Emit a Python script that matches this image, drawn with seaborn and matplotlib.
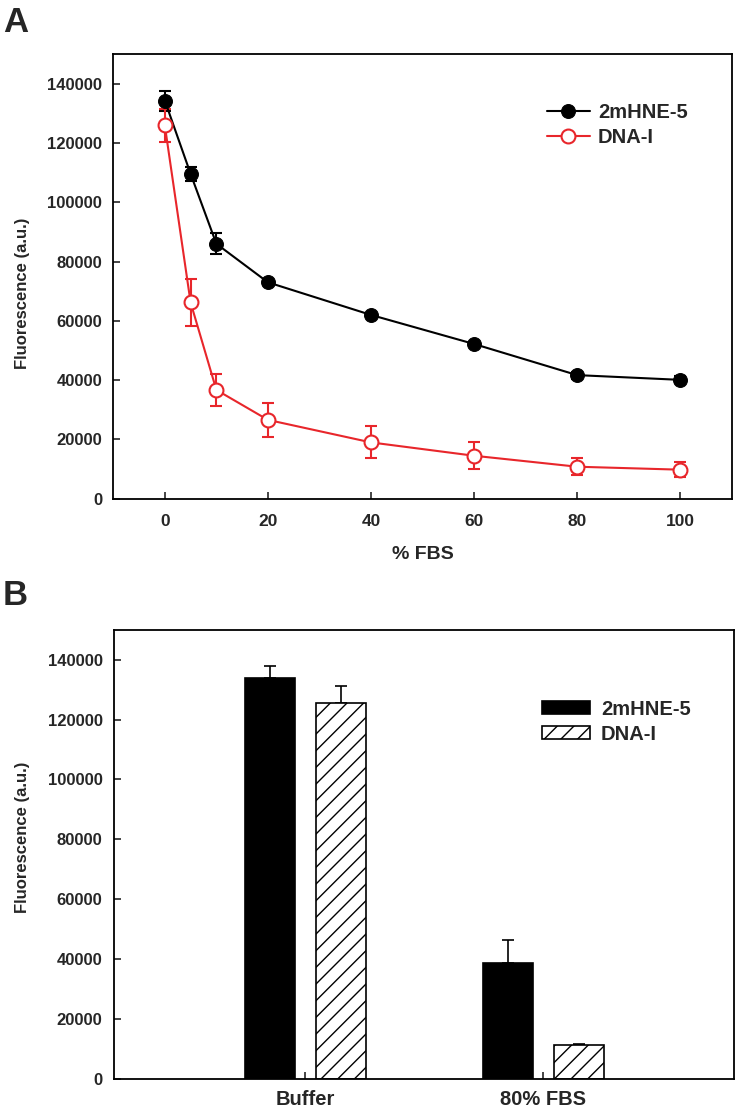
import pandas as pd
import matplotlib
matplotlib.use("Agg")
import matplotlib.pyplot as plt
import seaborn as sns

# -----------------------------
# data, panel A: fluorescence vs % FBS
# -----------------------------
fbs = [0, 5, 10, 20, 40, 60, 80, 100]
hne5 = [134300, 109600, 86000, 73000, 62000, 52200, 41700, 40100]
hne5_err = [3400, 2300, 3500, 800, 600, 600, 1200, 1200]
dnai = [125900, 66200, 36700, 26600, 19000, 14500, 10800, 9800]
dnai_err = [5600, 8000, 5300, 5800, 5400, 4500, 2900, 2500]

# -----------------------------
# data, panel B: buffer vs 80% FBS
# -----------------------------
conditions = ["Buffer", "80% FBS"]
bar_hne5 = [134000, 38600]
bar_hne5_err = [4000, 7700]
bar_dnai = [125600, 11200]
bar_dnai_err = [5700, 300]

probes = ["2mHNE-5", "DNA-I"]
yticks = list(range(0, 140001, 20000))
xticks = [0, 20, 40, 60, 80, 100]

RED = "#e8262b"

sns.set_style("ticks")
plt.rcParams["font.family"] = ["Liberation Sans", "DejaVu Sans"]
plt.rcParams["font.weight"] = "bold"
plt.rcParams["axes.labelweight"] = "bold"
plt.rcParams["hatch.linewidth"] = 1.0

fig = plt.figure(figsize=(7.38, 11.12), dpi=100)
axA = fig.add_axes([0.1535, 0.5515, 0.838, 0.3999])
axB = fig.add_axes([0.154, 0.0301, 0.8406, 0.4034])

# -----------------------------
# panel A
# -----------------------------
dfA = pd.DataFrame({
    "fbs": fbs + fbs,
    "fluor": hne5 + dnai,
    "probe": [probes[0]] * len(fbs) + [probes[1]] * len(fbs),
})

axA.errorbar(fbs, hne5, yerr=hne5_err, fmt="none", ecolor="black",
             elinewidth=1.5, capsize=4.5, capthick=1.5, zorder=2)
axA.errorbar(fbs, dnai, yerr=dnai_err, fmt="none", ecolor=RED,
             elinewidth=1.5, capsize=4.5, capthick=1.5, zorder=2)

sns.lineplot(data=dfA[dfA.probe == probes[0]], x="fbs", y="fluor",
             color="black", marker="o", markersize=10,
             markerfacecolor="black", markeredgecolor="black",
             linewidth=1.5, errorbar=None, label=probes[0], ax=axA, zorder=3)
sns.lineplot(data=dfA[dfA.probe == probes[1]], x="fbs", y="fluor",
             color=RED, marker="o", markersize=10,
             markerfacecolor="white", markeredgecolor=RED, markeredgewidth=1.5,
             linewidth=1.5, errorbar=None, label=probes[1], ax=axA, zorder=3)

axA.set_xlim(-10, 110)
axA.set_ylim(0, 150000)
axA.set_xticks(xticks)
axA.set_yticks(yticks)
axA.yaxis.set_major_formatter(matplotlib.ticker.StrMethodFormatter("{x:.0f}"))
axA.set_xlabel("% FBS", fontsize=14, labelpad=12)
axA.set_ylabel("Fluorescence (a.u.)", fontsize=12)
axA.yaxis.set_label_coords(-0.135, 0.461)
axA.legend(loc="center left", bbox_to_anchor=(0.701, 0.841), frameon=False,
           fontsize=14.5, handlelength=2.14, handletextpad=0.4,
           labelspacing=0.3, borderpad=0, borderaxespad=0)
axA.tick_params(axis="x", labelsize=12.5, pad=11)

# -----------------------------
# panel B
# -----------------------------
dfB = pd.DataFrame({
    "condition": conditions + conditions,
    "fluor": bar_hne5 + bar_dnai,
    "probe": [probes[0]] * len(conditions) + [probes[1]] * len(conditions),
})

sns.barplot(data=dfB, x="condition", y="fluor", hue="probe",
            palette=["black", "white"], edgecolor="black", linewidth=1.2,
            width=0.6, gap=0.3, errorbar=None, ax=axB, zorder=2)

for p in axB.containers[1]:
    p.set_hatch("//")

for cont, errs in zip(axB.containers, [bar_hne5_err, bar_dnai_err]):
    xs = [p.get_x() + p.get_width() / 2 for p in cont]
    hs = [p.get_height() for p in cont]
    axB.errorbar(xs, hs, yerr=[[0] * len(errs), errs], fmt="none",
                 ecolor="black", elinewidth=1.2, capsize=4.5, capthick=1.2,
                 zorder=1)

axB.set_xlim(-0.805, 1.801)
axB.set_ylim(0, 150000)
axB.set_yticks(yticks)
axB.yaxis.set_major_formatter(matplotlib.ticker.StrMethodFormatter("{x:.0f}"))
axB.set_xlabel("")
axB.set_ylabel("Fluorescence (a.u.)", fontsize=12)
axB.yaxis.set_label_coords(-0.135, 0.538)
handles = [axB.containers[0].patches[0], axB.containers[1].patches[0]]
axB.legend(handles, probes, loc="center left", bbox_to_anchor=(0.6905, 0.795),
           frameon=False, fontsize=14.5, handlelength=2.38, handleheight=0.61,
           handletextpad=0.55, labelspacing=0.3, borderpad=0, borderaxespad=0)
axB.tick_params(axis="x", labelsize=14.5, pad=8)

for ax in (axA, axB):
    ax.tick_params(axis="both", direction="in", length=5, width=1.2)
    ax.tick_params(axis="y", labelsize=12, pad=8)
    for s in ax.spines.values():
        s.set_visible(True)
        s.set_linewidth(1.3)
        s.set_color("black")

fig.text(0.004, 1 - 32 / 1112, "A", fontsize=25, fontweight="bold", va="baseline")
fig.text(0.004, 1 - 605 / 1112, "B", fontsize=25, fontweight="bold", va="baseline")

fig.savefig("out.png", dpi=100)
